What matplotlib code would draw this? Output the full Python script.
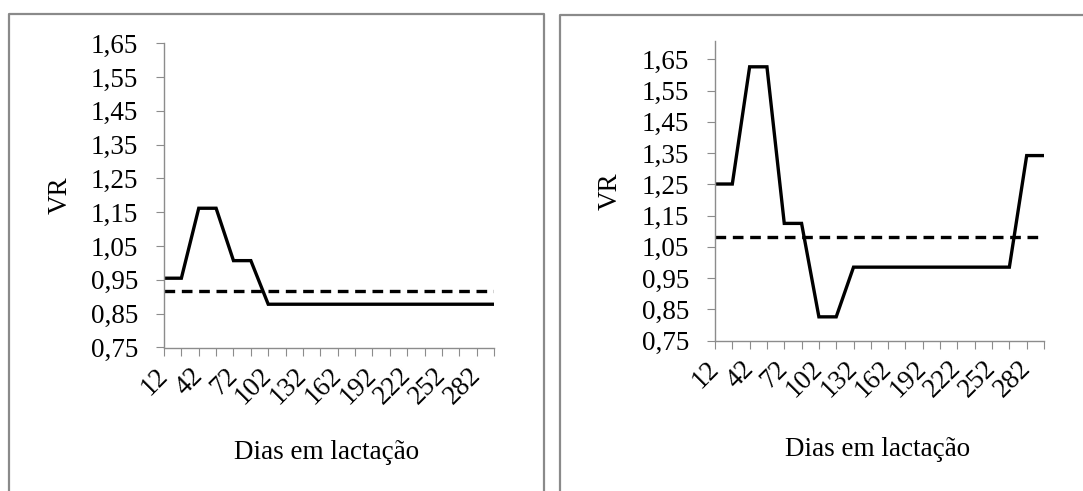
import matplotlib.pyplot as plt
from matplotlib.lines import Line2D

plt.rcParams['font.family'] = ['Liberation Serif', 'DejaVu Serif']

# dias em lactação (categorias)
dias = [12, 27, 42, 57, 72, 87, 102, 117, 132, 147,
        162, 177, 192, 207, 222, 237, 252, 267, 282, 297]

vr_esq = [0.955, 0.955, 1.162, 1.162, 1.007, 1.007, 0.878, 0.878, 0.878, 0.878,
          0.878, 0.878, 0.878, 0.878, 0.878, 0.878, 0.878, 0.878, 0.878, 0.878]
media_esq = 0.918

vr_dir = [1.251, 1.251, 1.626, 1.626, 1.125, 1.125, 0.826, 0.826, 0.985, 0.985,
          0.985, 0.985, 0.985, 0.985, 0.985, 0.985, 0.985, 0.985, 1.342, 1.342]
media_dir = 1.082

yticks = [0.75, 0.85, 0.95, 1.05, 1.15, 1.25, 1.35, 1.45, 1.55, 1.65]
ytick_labels = ['0,75', '0,85', '0,95', '1,05', '1,15', '1,25', '1,35', '1,45', '1,55', '1,65']

W, H = 1083, 491
fig = plt.figure(figsize=(W / 100, H / 100), dpi=100)


def px_axes(x0, y0, x1, y1):
    return fig.add_axes([x0 / W, 1 - y1 / H, (x1 - x0) / W, (y1 - y0) / H])


gray = '#8c8c8c'


def panel(ax, vr, media, ymax):
    x = list(range(len(dias)))
    ax.plot(x, vr, color='black', lw=2.4, solid_joinstyle='miter')
    ax.plot([x[0], x[-1]], [media, media], color='black', lw=2.4,
            dashes=(3.2, 2.0))
    ax.set_xlim(0, len(dias) - 1)
    ax.set_ylim(0.75, ymax)
    ax.set_yticks(yticks)
    ax.set_yticklabels(ytick_labels)
    ax.set_xticks(x)
    ax.set_xticklabels([str(d) if i % 2 == 0 else '' for i, d in enumerate(dias)],
                       rotation=45, ha='right', va='center', rotation_mode='anchor')
    for s in ['top', 'right']:
        ax.spines[s].set_visible(False)
    for s in ['left', 'bottom']:
        ax.spines[s].set_color(gray)
        ax.spines[s].set_linewidth(1.0)
    ax.tick_params(axis='both', direction='out', length=5.5, width=0.8,
                   color=gray, labelsize=19.5)
    ax.tick_params(axis='y', pad=13)
    ax.tick_params(axis='x', pad=12)
    ax.set_ylabel('VR', fontsize=19.5)
    ax.set_xlabel('Dias em lactação', fontsize=19.5)


ax1 = px_axes(164, 43.3, 494, 347.5)
panel(ax1, vr_esq, media_esq, 1.65)
ax1.yaxis.set_label_coords((73 - 164) / 330, 0.5)
ax1.xaxis.set_label_coords(0.494, (347.5 - 440) / 304.2)

ax2 = px_axes(715, 41.5, 1044, 340.6)
panel(ax2, vr_dir, media_dir, 1.707)
ax2.yaxis.set_label_coords((623 - 715) / 329, 0.5)
ax2.xaxis.set_label_coords(0.494, (340.6 - 437) / 299.1)

# molduras dos dois gráficos
def border(pts):
    xs = [p[0] / W for p in pts]
    ys = [1 - p[1] / H for p in pts]
    fig.add_artist(Line2D(xs, ys, color='#8a8a8a', lw=1.6, transform=fig.transFigure))


border([(9, 520), (9, 14.3), (543.7, 14.3), (543.7, 520)])
border([(560.3, 520), (560.3, 14.5), (1100, 14.5)])

fig.savefig('out.png', dpi=100)
